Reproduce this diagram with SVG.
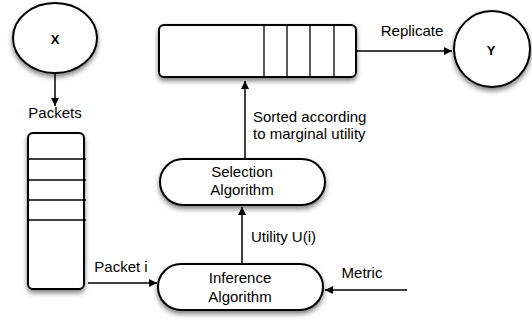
<svg xmlns="http://www.w3.org/2000/svg" width="532" height="324" viewBox="0 0 532 324">
<style>
.s{fill:#fff;stroke:#000;stroke-width:2;filter:url(#sh)}
.l{stroke:#000;stroke-width:1.3;fill:none}
.c{stroke:#000;stroke-width:1.5;fill:none;marker-end:url(#ah)}
text{font-family:"Liberation Sans",Arial,sans-serif;font-size:15px;fill:#000}
.m{text-anchor:middle}
.b{font-weight:bold;font-size:13px}
</style>
<defs>
<filter id="sh" x="-20%" y="-20%" width="140%" height="160%">
<feDropShadow dx="0" dy="3" stdDeviation="2.5" flood-color="#000" flood-opacity="0.5"/>
</filter>
<marker id="ah" viewBox="0 0 10 10" refX="10" refY="5" markerWidth="8" markerHeight="8" markerUnits="userSpaceOnUse" orient="auto">
<path d="M0,0 L10,5 L0,10 z" fill="#000"/>
</marker>
</defs>
<g id="connectors">
<line class="c" x1="55" y1="74" x2="55" y2="106"/>
<line class="c" x1="88" y1="283" x2="157" y2="283"/>
<line class="c" x1="242" y1="264" x2="242" y2="207"/>
<line class="c" x1="245" y1="158" x2="245" y2="81"/>
<line class="c" x1="357" y1="51" x2="452" y2="51"/>
<line class="c" x1="407" y1="290" x2="325" y2="290"/>
<text x="121" y="272" class="m">Packet i</text>
<text x="251" y="242">Utility U(i)</text>
<text x="253" y="122">Sorted according</text>
<text x="253" y="139">to marginal utility</text>
<text x="412" y="36" class="m">Replicate</text>
<text x="362" y="278" class="m">Metric</text>
<text x="55" y="118" class="m">Packets</text>
</g>
<g id="X">
<ellipse class="s" cx="55" cy="38" rx="42" ry="35"/>
<text x="55" y="44" class="m b">X</text>
</g>
<g id="Y">
<ellipse class="s" cx="492" cy="49" rx="38" ry="38"/>
<text x="491" y="55" class="m b">Y</text>
</g>
<g id="packets-queue">
<rect class="s" x="28" y="133" width="56" height="156" rx="5"/>
<line class="l" x1="28" y1="159" x2="86" y2="159"/>
<line class="l" x1="28" y1="180" x2="86" y2="180"/>
<line class="l" x1="28" y1="200" x2="86" y2="200"/>
<line class="l" x1="28" y1="220" x2="86" y2="220"/>
</g>
<g id="sorted-queue">
<rect class="s" x="159" y="25" width="197" height="52" rx="5"/>
<line class="l" x1="264" y1="25" x2="264" y2="77"/>
<line class="l" x1="287" y1="25" x2="287" y2="77"/>
<line class="l" x1="310" y1="25" x2="310" y2="77"/>
<line class="l" x1="334" y1="25" x2="334" y2="77"/>
</g>
<g id="selection">
<rect class="s" x="160" y="159" width="165" height="46" rx="23"/>
<text x="242" y="177" class="m">Selection</text>
<text x="242" y="195" class="m">Algorithm</text>
</g>
<g id="inference">
<rect class="s" x="158" y="264" width="165" height="46" rx="23"/>
<text x="240" y="283" class="m">Inference</text>
<text x="240" y="302" class="m">Algorithm</text>
</g>
</svg>
